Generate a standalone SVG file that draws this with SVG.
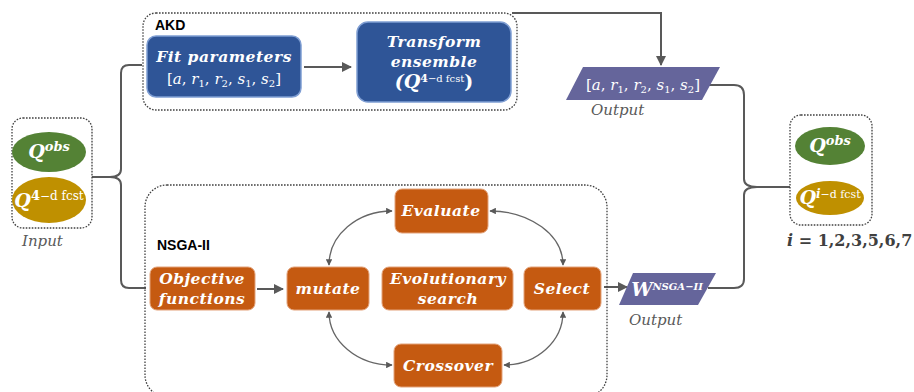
<svg xmlns="http://www.w3.org/2000/svg" width="914" height="392" viewBox="0 0 914 392">
<defs>
<marker id="ah" viewBox="0 0 10 10" refX="9" refY="5" markerWidth="5" markerHeight="5" orient="auto-start-reverse">
<path d="M0,0 L10,5 L0,10 z" fill="#595959"/>
</marker>
<style>
.grp{fill:none;stroke:#404040;stroke-width:1.3;stroke-dasharray:1.6 1.4}
.blue{fill:#2F5597;stroke:#7F9ED3;stroke-width:1.5}
.org{fill:#C55A11;stroke:#E3A27A;stroke-width:1}
.para{fill:#65659B}
.ln{fill:none;stroke:#595959;stroke-width:2}
.arc{fill:none;stroke:#666;stroke-width:1.3}
.lbl{font-family:"DejaVu Serif",serif;font-weight:bold;font-style:italic;font-size:15.5px;fill:#fff;letter-spacing:0.5px;text-anchor:middle}
.mth{font-family:"DejaVu Serif",serif;font-size:15px;fill:#fff;text-anchor:middle}
.q{font-family:"DejaVu Serif",serif;font-weight:bold;font-style:italic;font-size:19px;fill:#fff;text-anchor:middle}
.cap{font-family:"DejaVu Serif",serif;font-style:italic;font-size:15px;fill:#595959}
.ttl{font-family:"Liberation Sans",Arial,sans-serif;font-weight:bold;font-size:14px;fill:#000}
</style>
</defs>

<g id="connectors">
<path class="ln" d="M92,177 L110,177"/>
<path class="ln" d="M142,65 L129,65 Q121,65 121,73 L121,169 Q121,177 110,177 Q121,177 121,185 L121,280 Q121,288 129,288 L146,288"/>
<path class="ln" d="M304,67 L351,67" marker-end="url(#ah)"/>
<path class="ln" d="M512,13 L661,13 L661,65" marker-end="url(#ah)"/>
<path class="ln" d="M257,289 L283,289" marker-end="url(#ah)"/>
<path class="ln" d="M604,287 L627,287" marker-end="url(#ah)"/>
<path class="ln" d="M708,85 L734,85 Q744,85 744,95 L744,179 Q744,187 757,187 Q744,187 744,195 L744,279 Q744,288 734,288 L708,288"/>
<path class="ln" d="M757,187 L790,187"/>
<path class="arc" d="M329,265 A63 54 0 0 1 392,211" marker-start="url(#ah)" marker-end="url(#ah)"/>
<path class="arc" d="M490,211 A73 54 0 0 1 563,265" marker-start="url(#ah)" marker-end="url(#ah)"/>
<path class="arc" d="M329,312 A63 53 0 0 0 392,365" marker-start="url(#ah)" marker-end="url(#ah)"/>
<path class="arc" d="M504,365 A59 53 0 0 0 563,312" marker-start="url(#ah)" marker-end="url(#ah)"/>
</g>

<g id="input">
<rect class="grp" x="12" y="118" width="80" height="110" rx="11"/>
<ellipse cx="49" cy="152" rx="37" ry="20" fill="#548235"/>
<text class="q" x="49" y="158">Q<tspan font-size="13" dy="-7">obs</tspan></text>
<ellipse cx="49" cy="200" rx="37" ry="23" fill="#BF9000"/>
<text class="q" x="49" y="207">Q<tspan font-size="13" dy="-7" font-style="normal">4</tspan><tspan font-size="12" font-weight="normal" font-style="normal">−d fcst</tspan></text>
<text class="cap" x="22" y="246">Input</text>
</g>

<g id="akd">
<rect class="grp" x="143" y="13" width="374" height="97" rx="13"/>
<text class="ttl" x="155" y="30">AKD</text>
</g>

<g id="fit">
<rect class="blue" x="147" y="36" width="154" height="61" rx="9"/>
<text class="lbl" x="224" y="62">Fit parameters</text>
<text class="mth" x="224" y="84">[<tspan font-style="italic">a</tspan>, <tspan font-style="italic">r</tspan><tspan font-size="10" dy="3">1</tspan><tspan dy="-3">, </tspan><tspan font-style="italic">r</tspan><tspan font-size="10" dy="3">2</tspan><tspan dy="-3">, </tspan><tspan font-style="italic">s</tspan><tspan font-size="10" dy="3">1</tspan><tspan dy="-3">, </tspan><tspan font-style="italic">s</tspan><tspan font-size="10" dy="3">2</tspan><tspan dy="-3">]</tspan></text>
</g>

<g id="transform">
<rect class="blue" x="357" y="22" width="154" height="80" rx="11"/>
<text class="lbl" x="434" y="47">Transform</text>
<text class="lbl" x="434" y="67">ensemble</text>
<text class="q" x="434" y="88" font-size="16">(Q<tspan font-size="11" dy="-6" font-style="normal">4</tspan><tspan font-size="10" font-weight="normal" font-style="normal">−d fcst</tspan><tspan dy="6" font-style="normal">)</tspan></text>
</g>

<g id="output-akd">
<polygon class="para" points="583,67 720,67 702,100 566,100"/>
<text class="mth" x="643" y="90">[<tspan font-style="italic">a</tspan>, <tspan font-style="italic">r</tspan><tspan font-size="10" dy="3">1</tspan><tspan dy="-3">, </tspan><tspan font-style="italic">r</tspan><tspan font-size="10" dy="3">2</tspan><tspan dy="-3">, </tspan><tspan font-style="italic">s</tspan><tspan font-size="10" dy="3">1</tspan><tspan dy="-3">, </tspan><tspan font-style="italic">s</tspan><tspan font-size="10" dy="3">2</tspan><tspan dy="-3">]</tspan></text>
<text class="cap" x="591" y="115">Output</text>
</g>

<g id="nsga">
<rect class="grp" x="145" y="185" width="462" height="212" rx="22"/>
<text class="ttl" x="157" y="250">NSGA-II</text>
</g>

<g id="objective">
<rect class="org" x="150" y="267" width="105" height="43" rx="7"/>
<text class="lbl" x="202" y="284">Objective</text>
<text class="lbl" x="202" y="304">functions</text>
</g>

<g id="mutate">
<rect class="org" x="287" y="267" width="82" height="43" rx="7"/>
<text class="lbl" x="328" y="294">mutate</text>
</g>

<g id="evolutionary">
<rect class="org" x="382" y="267" width="131" height="43" rx="7"/>
<text class="lbl" x="448" y="284">Evolutionary</text>
<text class="lbl" x="448" y="304" font-style="normal" font-size="14.5">search</text>
</g>

<g id="select">
<rect class="org" x="524" y="267" width="77" height="43" rx="7"/>
<text class="lbl" x="562" y="294">Select</text>
</g>

<g id="evaluate">
<rect class="org" x="395" y="189" width="93" height="44" rx="7"/>
<text class="lbl" x="441" y="216">Evaluate</text>
</g>

<g id="crossover">
<rect class="org" x="394" y="344" width="108" height="43" rx="7"/>
<text class="lbl" x="448" y="371">Crossover</text>
</g>

<g id="output-nsga">
<polygon class="para" points="633,273 716,273 698,305 619,305"/>
<text class="q" x="667" y="296" font-size="15" font-weight="normal">W<tspan font-size="10" dy="-6">NSGA−II</tspan></text>
<text class="cap" x="629" y="325">Output</text>
</g>

<g id="result">
<rect class="grp" x="790" y="115" width="82" height="110" rx="11"/>
<ellipse cx="830" cy="146" rx="35" ry="19" fill="#548235"/>
<text class="q" x="830" y="152">Q<tspan font-size="13" dy="-7">obs</tspan></text>
<ellipse cx="830" cy="198" rx="34" ry="17" fill="#BF9000"/>
<text class="q" x="830" y="204" font-size="17">Q<tspan font-size="12" dy="-6">i</tspan><tspan font-size="11" font-weight="normal" font-style="normal">−d fcst</tspan></text>
<text x="787" y="246" font-family="DejaVu Serif, serif" font-weight="bold" font-size="16" fill="#404040"><tspan font-style="italic">i</tspan> = 1,2,3,5,6,7</text>
</g>
</svg>
